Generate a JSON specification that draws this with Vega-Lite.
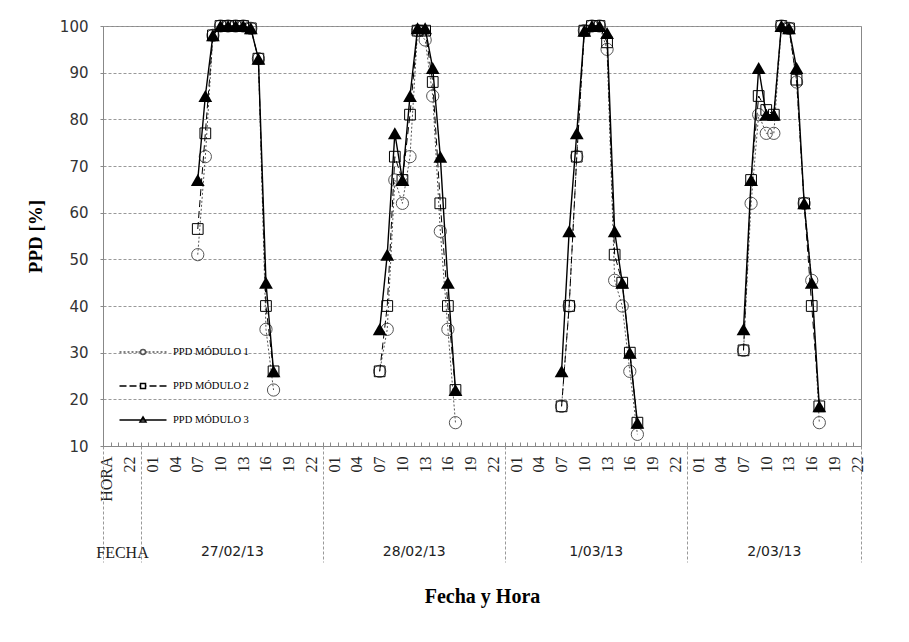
{
  "$schema": "https://vega.github.io/schema/vega-lite/v6.json",
  "width": 758,
  "height": 420,
  "autosize": {"type": "none"},
  "padding": {"left": 103, "top": 26, "right": 48, "bottom": 196},
  "background": "white",
  "config": {"view": {"stroke": "#888", "strokeWidth": 1}, "font": "Liberation Serif"},
  "data": {"values": [
    {"serie":"PPD MÓDULO 1","fecha":"27/02/13","t":7,"ppd":51},
    {"serie":"PPD MÓDULO 1","fecha":"27/02/13","t":8,"ppd":72},
    {"serie":"PPD MÓDULO 1","fecha":"27/02/13","t":9,"ppd":98},
    {"serie":"PPD MÓDULO 1","fecha":"27/02/13","t":10,"ppd":100},
    {"serie":"PPD MÓDULO 1","fecha":"27/02/13","t":11,"ppd":100},
    {"serie":"PPD MÓDULO 1","fecha":"27/02/13","t":12,"ppd":100},
    {"serie":"PPD MÓDULO 1","fecha":"27/02/13","t":13,"ppd":100},
    {"serie":"PPD MÓDULO 1","fecha":"27/02/13","t":14,"ppd":99.5},
    {"serie":"PPD MÓDULO 1","fecha":"27/02/13","t":15,"ppd":93},
    {"serie":"PPD MÓDULO 1","fecha":"27/02/13","t":16,"ppd":35},
    {"serie":"PPD MÓDULO 1","fecha":"27/02/13","t":17,"ppd":22},
    {"serie":"PPD MÓDULO 1","fecha":"28/02/13","t":31,"ppd":26},
    {"serie":"PPD MÓDULO 1","fecha":"28/02/13","t":32,"ppd":35},
    {"serie":"PPD MÓDULO 1","fecha":"28/02/13","t":33,"ppd":67},
    {"serie":"PPD MÓDULO 1","fecha":"28/02/13","t":34,"ppd":62},
    {"serie":"PPD MÓDULO 1","fecha":"28/02/13","t":35,"ppd":72},
    {"serie":"PPD MÓDULO 1","fecha":"28/02/13","t":36,"ppd":99},
    {"serie":"PPD MÓDULO 1","fecha":"28/02/13","t":37,"ppd":97},
    {"serie":"PPD MÓDULO 1","fecha":"28/02/13","t":38,"ppd":85},
    {"serie":"PPD MÓDULO 1","fecha":"28/02/13","t":39,"ppd":56},
    {"serie":"PPD MÓDULO 1","fecha":"28/02/13","t":40,"ppd":35},
    {"serie":"PPD MÓDULO 1","fecha":"28/02/13","t":41,"ppd":15},
    {"serie":"PPD MÓDULO 1","fecha":"1/03/13","t":55,"ppd":18.5},
    {"serie":"PPD MÓDULO 1","fecha":"1/03/13","t":56,"ppd":40},
    {"serie":"PPD MÓDULO 1","fecha":"1/03/13","t":57,"ppd":72},
    {"serie":"PPD MÓDULO 1","fecha":"1/03/13","t":58,"ppd":99},
    {"serie":"PPD MÓDULO 1","fecha":"1/03/13","t":59,"ppd":100},
    {"serie":"PPD MÓDULO 1","fecha":"1/03/13","t":60,"ppd":100},
    {"serie":"PPD MÓDULO 1","fecha":"1/03/13","t":61,"ppd":95},
    {"serie":"PPD MÓDULO 1","fecha":"1/03/13","t":62,"ppd":45.5},
    {"serie":"PPD MÓDULO 1","fecha":"1/03/13","t":63,"ppd":40},
    {"serie":"PPD MÓDULO 1","fecha":"1/03/13","t":64,"ppd":26},
    {"serie":"PPD MÓDULO 1","fecha":"1/03/13","t":65,"ppd":12.5},
    {"serie":"PPD MÓDULO 1","fecha":"2/03/13","t":79,"ppd":30.5},
    {"serie":"PPD MÓDULO 1","fecha":"2/03/13","t":80,"ppd":62},
    {"serie":"PPD MÓDULO 1","fecha":"2/03/13","t":81,"ppd":81},
    {"serie":"PPD MÓDULO 1","fecha":"2/03/13","t":82,"ppd":77},
    {"serie":"PPD MÓDULO 1","fecha":"2/03/13","t":83,"ppd":77},
    {"serie":"PPD MÓDULO 1","fecha":"2/03/13","t":84,"ppd":100},
    {"serie":"PPD MÓDULO 1","fecha":"2/03/13","t":85,"ppd":99.5},
    {"serie":"PPD MÓDULO 1","fecha":"2/03/13","t":86,"ppd":88},
    {"serie":"PPD MÓDULO 1","fecha":"2/03/13","t":87,"ppd":62},
    {"serie":"PPD MÓDULO 1","fecha":"2/03/13","t":88,"ppd":45.5},
    {"serie":"PPD MÓDULO 1","fecha":"2/03/13","t":89,"ppd":15},
    {"serie":"PPD MÓDULO 2","fecha":"27/02/13","t":7,"ppd":56.5},
    {"serie":"PPD MÓDULO 2","fecha":"27/02/13","t":8,"ppd":77},
    {"serie":"PPD MÓDULO 2","fecha":"27/02/13","t":9,"ppd":98},
    {"serie":"PPD MÓDULO 2","fecha":"27/02/13","t":10,"ppd":100},
    {"serie":"PPD MÓDULO 2","fecha":"27/02/13","t":11,"ppd":100},
    {"serie":"PPD MÓDULO 2","fecha":"27/02/13","t":12,"ppd":100},
    {"serie":"PPD MÓDULO 2","fecha":"27/02/13","t":13,"ppd":100},
    {"serie":"PPD MÓDULO 2","fecha":"27/02/13","t":14,"ppd":99.5},
    {"serie":"PPD MÓDULO 2","fecha":"27/02/13","t":15,"ppd":93},
    {"serie":"PPD MÓDULO 2","fecha":"27/02/13","t":16,"ppd":40},
    {"serie":"PPD MÓDULO 2","fecha":"27/02/13","t":17,"ppd":26},
    {"serie":"PPD MÓDULO 2","fecha":"28/02/13","t":31,"ppd":26},
    {"serie":"PPD MÓDULO 2","fecha":"28/02/13","t":32,"ppd":40},
    {"serie":"PPD MÓDULO 2","fecha":"28/02/13","t":33,"ppd":72},
    {"serie":"PPD MÓDULO 2","fecha":"28/02/13","t":34,"ppd":67},
    {"serie":"PPD MÓDULO 2","fecha":"28/02/13","t":35,"ppd":81},
    {"serie":"PPD MÓDULO 2","fecha":"28/02/13","t":36,"ppd":99},
    {"serie":"PPD MÓDULO 2","fecha":"28/02/13","t":37,"ppd":99},
    {"serie":"PPD MÓDULO 2","fecha":"28/02/13","t":38,"ppd":88},
    {"serie":"PPD MÓDULO 2","fecha":"28/02/13","t":39,"ppd":62},
    {"serie":"PPD MÓDULO 2","fecha":"28/02/13","t":40,"ppd":40},
    {"serie":"PPD MÓDULO 2","fecha":"28/02/13","t":41,"ppd":22},
    {"serie":"PPD MÓDULO 2","fecha":"1/03/13","t":55,"ppd":18.5},
    {"serie":"PPD MÓDULO 2","fecha":"1/03/13","t":56,"ppd":40},
    {"serie":"PPD MÓDULO 2","fecha":"1/03/13","t":57,"ppd":72},
    {"serie":"PPD MÓDULO 2","fecha":"1/03/13","t":58,"ppd":99},
    {"serie":"PPD MÓDULO 2","fecha":"1/03/13","t":59,"ppd":100},
    {"serie":"PPD MÓDULO 2","fecha":"1/03/13","t":60,"ppd":100},
    {"serie":"PPD MÓDULO 2","fecha":"1/03/13","t":61,"ppd":96.5},
    {"serie":"PPD MÓDULO 2","fecha":"1/03/13","t":62,"ppd":51},
    {"serie":"PPD MÓDULO 2","fecha":"1/03/13","t":63,"ppd":45},
    {"serie":"PPD MÓDULO 2","fecha":"1/03/13","t":64,"ppd":30},
    {"serie":"PPD MÓDULO 2","fecha":"1/03/13","t":65,"ppd":15},
    {"serie":"PPD MÓDULO 2","fecha":"2/03/13","t":79,"ppd":30.5},
    {"serie":"PPD MÓDULO 2","fecha":"2/03/13","t":80,"ppd":67},
    {"serie":"PPD MÓDULO 2","fecha":"2/03/13","t":81,"ppd":85},
    {"serie":"PPD MÓDULO 2","fecha":"2/03/13","t":82,"ppd":82},
    {"serie":"PPD MÓDULO 2","fecha":"2/03/13","t":83,"ppd":81},
    {"serie":"PPD MÓDULO 2","fecha":"2/03/13","t":84,"ppd":100},
    {"serie":"PPD MÓDULO 2","fecha":"2/03/13","t":85,"ppd":99.5},
    {"serie":"PPD MÓDULO 2","fecha":"2/03/13","t":86,"ppd":88.5},
    {"serie":"PPD MÓDULO 2","fecha":"2/03/13","t":87,"ppd":62},
    {"serie":"PPD MÓDULO 2","fecha":"2/03/13","t":88,"ppd":40},
    {"serie":"PPD MÓDULO 2","fecha":"2/03/13","t":89,"ppd":18.5},
    {"serie":"PPD MÓDULO 3","fecha":"27/02/13","t":7,"ppd":67},
    {"serie":"PPD MÓDULO 3","fecha":"27/02/13","t":8,"ppd":85},
    {"serie":"PPD MÓDULO 3","fecha":"27/02/13","t":9,"ppd":98},
    {"serie":"PPD MÓDULO 3","fecha":"27/02/13","t":10,"ppd":100},
    {"serie":"PPD MÓDULO 3","fecha":"27/02/13","t":11,"ppd":100},
    {"serie":"PPD MÓDULO 3","fecha":"27/02/13","t":12,"ppd":100},
    {"serie":"PPD MÓDULO 3","fecha":"27/02/13","t":13,"ppd":100},
    {"serie":"PPD MÓDULO 3","fecha":"27/02/13","t":14,"ppd":99.5},
    {"serie":"PPD MÓDULO 3","fecha":"27/02/13","t":15,"ppd":93},
    {"serie":"PPD MÓDULO 3","fecha":"27/02/13","t":16,"ppd":45},
    {"serie":"PPD MÓDULO 3","fecha":"27/02/13","t":17,"ppd":26},
    {"serie":"PPD MÓDULO 3","fecha":"28/02/13","t":31,"ppd":35},
    {"serie":"PPD MÓDULO 3","fecha":"28/02/13","t":32,"ppd":51},
    {"serie":"PPD MÓDULO 3","fecha":"28/02/13","t":33,"ppd":77},
    {"serie":"PPD MÓDULO 3","fecha":"28/02/13","t":34,"ppd":67},
    {"serie":"PPD MÓDULO 3","fecha":"28/02/13","t":35,"ppd":85},
    {"serie":"PPD MÓDULO 3","fecha":"28/02/13","t":36,"ppd":99.5},
    {"serie":"PPD MÓDULO 3","fecha":"28/02/13","t":37,"ppd":99.5},
    {"serie":"PPD MÓDULO 3","fecha":"28/02/13","t":38,"ppd":91},
    {"serie":"PPD MÓDULO 3","fecha":"28/02/13","t":39,"ppd":72},
    {"serie":"PPD MÓDULO 3","fecha":"28/02/13","t":40,"ppd":45},
    {"serie":"PPD MÓDULO 3","fecha":"28/02/13","t":41,"ppd":22},
    {"serie":"PPD MÓDULO 3","fecha":"1/03/13","t":55,"ppd":26},
    {"serie":"PPD MÓDULO 3","fecha":"1/03/13","t":56,"ppd":56},
    {"serie":"PPD MÓDULO 3","fecha":"1/03/13","t":57,"ppd":77},
    {"serie":"PPD MÓDULO 3","fecha":"1/03/13","t":58,"ppd":99},
    {"serie":"PPD MÓDULO 3","fecha":"1/03/13","t":59,"ppd":100},
    {"serie":"PPD MÓDULO 3","fecha":"1/03/13","t":60,"ppd":100},
    {"serie":"PPD MÓDULO 3","fecha":"1/03/13","t":61,"ppd":98.5},
    {"serie":"PPD MÓDULO 3","fecha":"1/03/13","t":62,"ppd":56},
    {"serie":"PPD MÓDULO 3","fecha":"1/03/13","t":63,"ppd":45},
    {"serie":"PPD MÓDULO 3","fecha":"1/03/13","t":64,"ppd":30},
    {"serie":"PPD MÓDULO 3","fecha":"1/03/13","t":65,"ppd":15},
    {"serie":"PPD MÓDULO 3","fecha":"2/03/13","t":79,"ppd":35},
    {"serie":"PPD MÓDULO 3","fecha":"2/03/13","t":80,"ppd":67},
    {"serie":"PPD MÓDULO 3","fecha":"2/03/13","t":81,"ppd":91},
    {"serie":"PPD MÓDULO 3","fecha":"2/03/13","t":82,"ppd":81},
    {"serie":"PPD MÓDULO 3","fecha":"2/03/13","t":83,"ppd":81},
    {"serie":"PPD MÓDULO 3","fecha":"2/03/13","t":84,"ppd":100},
    {"serie":"PPD MÓDULO 3","fecha":"2/03/13","t":85,"ppd":99.5},
    {"serie":"PPD MÓDULO 3","fecha":"2/03/13","t":86,"ppd":91},
    {"serie":"PPD MÓDULO 3","fecha":"2/03/13","t":87,"ppd":62},
    {"serie":"PPD MÓDULO 3","fecha":"2/03/13","t":88,"ppd":45},
    {"serie":"PPD MÓDULO 3","fecha":"2/03/13","t":89,"ppd":18.5}
  ]},
  "resolve": {"axis": {"x": "independent"}, "scale": {"x": "shared"}},
  "layer": [
    {
      "transform": [{"filter": {"field": "serie", "equal": "PPD MÓDULO 1"}}],
      "mark": {"type": "line", "stroke": "#555555", "strokeDash": [2, 2], "strokeWidth": 1},
      "encoding": {
        "x": {"field": "t", "type": "quantitative",
          "scale": {"domain": [-5.5, 94.5], "nice": false, "zero": false},
          "axis": {"orient": "bottom", "title": null, "labels": false, "grid": false,
            "values": [-5.5,-4.5,-3.5,-2.5,-1.5,-0.5,0.5,1.5,2.5,3.5,4.5,5.5,6.5,7.5,8.5,9.5,10.5,11.5,12.5,13.5,14.5,15.5,16.5,17.5,18.5,19.5,20.5,21.5,22.5,23.5,24.5,25.5,26.5,27.5,28.5,29.5,30.5,31.5,32.5,33.5,34.5,35.5,36.5,37.5,38.5,39.5,40.5,41.5,42.5,43.5,44.5,45.5,46.5,47.5,48.5,49.5,50.5,51.5,52.5,53.5,54.5,55.5,56.5,57.5,58.5,59.5,60.5,61.5,62.5,63.5,64.5,65.5,66.5,67.5,68.5,69.5,70.5,71.5,72.5,73.5,74.5,75.5,76.5,77.5,78.5,79.5,80.5,81.5,82.5,83.5,84.5,85.5,86.5,87.5,88.5,89.5,90.5,91.5,92.5,93.5,94.5],
            "ticks": true, "tickSize": -4, "tickColor": "#888", "domain": true, "domainColor": "#888"}},
        "y": {"field": "ppd", "type": "quantitative",
          "scale": {"domain": [10, 100], "nice": false, "zero": false},
          "axis": {"values": [10,20,30,40,50,60,70,80,90,100], "title": "PPD [%]",
            "titleFont": "Liberation Serif", "titleFontSize": 19, "titleFontWeight": "bold", "titleColor": "#000", "titlePadding": 14,
            "labelFont": "DejaVu Sans", "labelFontSize": 15, "labelColor": "#333", "labelPadding": 10,
            "tickSize": 5, "tickColor": "#888", "tickDash": [3, 2], "domainColor": "#888",
            "grid": true, "gridColor": "#999", "gridDash": [3, 2], "gridWidth": 1}},
        "detail": {"field": "fecha"}
      }
    },
    {
      "transform": [{"filter": {"field": "serie", "equal": "PPD MÓDULO 1"}}],
      "mark": {"type": "point", "shape": "circle", "size": 150, "filled": false, "color": "#555555", "strokeWidth": 1, "opacity": 1},
      "encoding": {
        "x": {"field": "t", "type": "quantitative", "axis": null},
        "y": {"field": "ppd", "type": "quantitative"}
      }
    },
    {
      "transform": [{"filter": {"field": "serie", "equal": "PPD MÓDULO 2"}}],
      "mark": {"type": "line", "stroke": "#000000", "strokeDash": [7, 4], "strokeWidth": 1},
      "encoding": {
        "x": {"field": "t", "type": "quantitative", "axis": null},
        "y": {"field": "ppd", "type": "quantitative"},
        "detail": {"field": "fecha"}
      }
    },
    {
      "transform": [{"filter": {"field": "serie", "equal": "PPD MÓDULO 2"}}],
      "mark": {"type": "point", "shape": "square", "size": 115, "filled": false, "color": "#000000", "strokeWidth": 1, "opacity": 1},
      "encoding": {
        "x": {"field": "t", "type": "quantitative", "axis": null},
        "y": {"field": "ppd", "type": "quantitative"}
      }
    },
    {
      "transform": [{"filter": {"field": "serie", "equal": "PPD MÓDULO 3"}}],
      "mark": {"type": "line", "stroke": "#000000", "strokeWidth": 1.4},
      "encoding": {
        "x": {"field": "t", "type": "quantitative", "axis": null},
        "y": {"field": "ppd", "type": "quantitative"},
        "detail": {"field": "fecha"}
      }
    },
    {
      "transform": [{"filter": {"field": "serie", "equal": "PPD MÓDULO 3"}}],
      "mark": {"type": "point", "shape": "triangle-up", "size": 190, "filled": true, "color": "#000000", "opacity": 1},
      "encoding": {
        "x": {"field": "t", "type": "quantitative",
          "axis": {"orient": "bottom", "title": null, "grid": false, "ticks": false, "domain": false,
            "values": [-5,-2,1,4,7,10,13,16,19,22,25,28,31,34,37,40,43,46,49,52,55,58,61,64,67,70,73,76,79,82,85,88,91,94],
            "labelExpr": "datum.value == -5 ? 'HORA' : ((((datum.value % 24) + 24) % 24) < 10 ? '0' : '') + (((datum.value % 24) + 24) % 24)",
            "labelAngle": 270, "labelFont": "Liberation Serif", "labelFontSize": 16, "labelColor": "#222",
            "labelPadding": 10, "labelOverlap": false, "labelFlush": false, "labelBound": false}},
        "y": {"field": "ppd", "type": "quantitative"}
      }
    },
    {
      "mark": {"type": "point", "opacity": 0, "strokeWidth": 1},
      "encoding": {
        "x": {"field": "t", "type": "quantitative",
          "axis": {"orient": "bottom", "grid": false, "domain": false,
            "values": [-5.5, -3, -0.5, 11.5, 23.5, 35.5, 47.5, 59.5, 71.5, 83, 94.5],
            "ticks": true, "tickSize": 116, "tickColor": "#999", "tickDash": [3, 2], "tickWidth": 1,
            "tickOpacity": {"condition": {"test": "indexof([-3, 11.5, 35.5, 59.5, 83], datum.value) >= 0", "value": 0}, "value": 1},
            "labelExpr": "datum.value == -3 ? 'FECHA' : datum.value == 11.5 ? '27/02/13' : datum.value == 35.5 ? '28/02/13' : datum.value == 59.5 ? '1/03/13' : datum.value == 83 ? '2/03/13' : ''",
            "labelFont": {"condition": {"test": "datum.value == -3", "value": "Liberation Serif"}, "value": "DejaVu Sans"},
            "labelFontSize": {"condition": {"test": "datum.value == -3", "value": 16}, "value": 14},
            "labelColor": "#222", "labelPadding": -18, "labelOverlap": false, "labelFlush": false, "labelBound": false,
            "title": "Fecha y Hora", "titleFont": "Liberation Serif", "titleFontSize": 20, "titleFontWeight": "bold",
            "titleColor": "#000", "titlePadding": 24}},
        "y": {"field": "ppd", "type": "quantitative"},
        "fill": {"field": "serie", "type": "nominal",
          "scale": {"domain": ["PPD MÓDULO 1","PPD MÓDULO 2","PPD MÓDULO 3"], "range": ["transparent","transparent","#000000"]}},
        "stroke": {"field": "serie", "type": "nominal",
          "scale": {"domain": ["PPD MÓDULO 1","PPD MÓDULO 2","PPD MÓDULO 3"], "range": ["#555555","#000000","#000000"]}},
        "shape": {"field": "serie", "type": "nominal",
          "scale": {"domain": ["PPD MÓDULO 1","PPD MÓDULO 2","PPD MÓDULO 3"],
            "range": [
              "M-4.7,0H-4.3M-3.9,0H-3.5M-3.1,0H-2.7M-2.3,0H-1.9M-1.5,0H-1.1M-0.9,0H-0.5M0.5,0H0.9M1.1,0H1.5M1.9,0H2.3M2.7,0H3.1M3.5,0H3.9M4.3,0H4.7M0.5,0A0.5,0.5 0 1,1 -0.5,0A0.5,0.5 0 1,1 0.5,0Z",
              "M-4.7,0H-3.3M-2.7,0H-1.3M-0.7,0H-0.5M-0.5,-0.5H0.5V0.5H-0.5ZM0.5,0H0.7M1.3,0H2.7M3.3,0H4.7",
              "M-4.7,0H4.7M0,-0.6L0.6,0.4L-0.6,0.4Z"]},
          "legend": {"orient": "none", "legendX": 34, "legendY": 320, "title": null,
            "symbolSize": 100, "symbolOffset": 0, "labelOffset": 24, "rowPadding": 22,
            "labelFont": "Liberation Serif", "labelFontSize": 10.5, "labelColor": "#000",
            "encode": {"symbols": {
              "strokeWidth": {"value": 1},
              "opacity": {"value": 1}
            }}}}
      }
    }
  ]
}
